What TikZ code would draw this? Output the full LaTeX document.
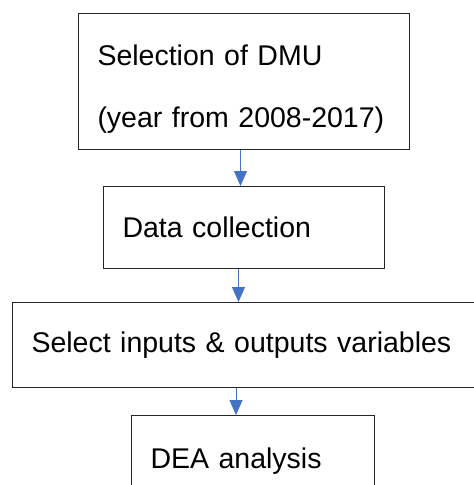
\documentclass[tikz,border=0pt]{standalone}
\usepackage{fontspec}
\setmainfont{Liberation Sans}
\usetikzlibrary{arrows.meta}
\definecolor{wordblue}{RGB}{68,114,196}

\begin{document}
\begin{tikzpicture}[x=1pt, y=-1pt,
					stepbox/.style={rectangle,
					draw=black!85,
					line width=1pt,
					anchor=north west,
					inner xsep=19pt,
					align=left,
					font=\fontsize{28.5}{62}\selectfont},
					flowarrow/.style={-{Triangle[width=13pt,length=15pt]},
					draw=wordblue,
					line width=1pt}
					]

% page size of the reference, boxes 3 and 4 run past it
\useasboundingbox (0,0) rectangle (474,485);
\clip (0,0) rectangle (474,485);

%process nodes
\node[stepbox, text width=293pt, minimum height=136pt, text height=36pt] (dmu) at (78,13) {Selection of DMU\\(year from 2008-2017)};
\node[stepbox, text width=243pt, minimum height=82pt] (data) at (103,186) {Data collection};
\node[stepbox, text width=428pt, minimum height=85pt] (select) at (12,302) {Select inputs \& outputs variables};
\node[stepbox, text width=205pt, minimum height=91pt] (dea) at (131,415) {DEA analysis};

% Arrows
\draw[flowarrow] ([xshift=-3.5pt]dmu.south) -- ([xshift=-3.5pt]dmu.south |- data.north);
\draw[flowarrow] ([xshift=-5.5pt]data.south) -- ([xshift=-5.5pt]data.south |- select.north);
\draw[flowarrow] ([xshift=-9.5pt]select.south) -- ([xshift=-9.5pt]select.south |- dea.north);

\end{tikzpicture}
\end{document}
